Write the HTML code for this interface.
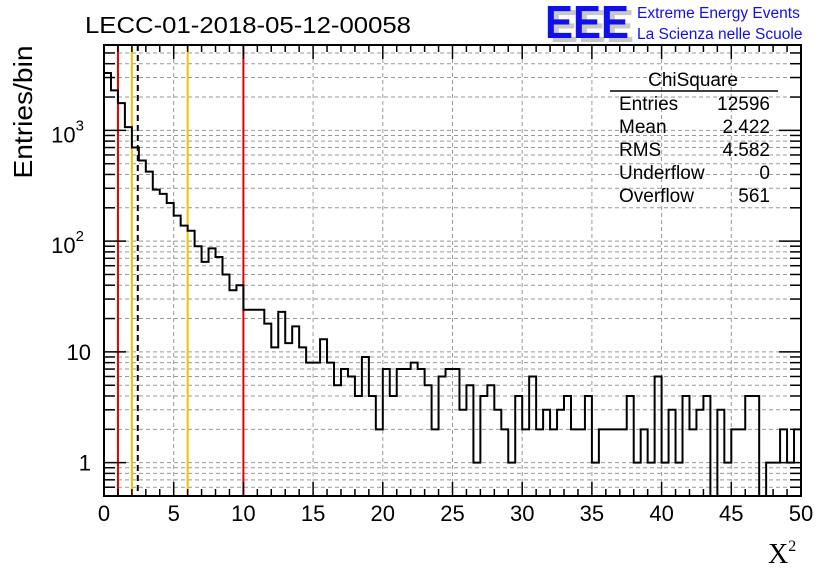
<!DOCTYPE html>
<html><head><meta charset="utf-8"><style>
body{margin:0;background:#fff}
svg{display:block;font-family:"Liberation Sans",sans-serif}
</style></head><body>
<svg id="c" width="836" height="572" viewBox="0 0 836 572">
<g id="grid"></g>
<g id="lines"></g>
<path id="hist" fill="none" stroke="#000" stroke-width="2"></path>
<rect x="104" y="45" width="697" height="451" fill="none" stroke="#000" stroke-width="2"/>
<g id="ticks"></g>
<text x="85" y="33" font-size="23" textLength="326" lengthAdjust="spacingAndGlyphs">LECC-01-2018-05-12-00058</text>
<g>
<text x="550" y="42" font-size="46" font-weight="bold" fill="#c8c8c8" textLength="84" lengthAdjust="spacingAndGlyphs">EEE</text>
<text x="545" y="38" font-size="46" font-weight="bold" fill="#1010ee" textLength="84" lengthAdjust="spacingAndGlyphs">EEE</text>
<text x="637" y="18" font-size="15.5" fill="#1010ee">Extreme Energy Events</text>
<text x="637" y="39" font-size="15.5" fill="#1010ee">La Scienza nelle Scuole</text>
</g>
<g font-size="19">
<text x="693" y="86" text-anchor="middle">ChiSquare</text>
<line x1="610" y1="91" x2="778" y2="91" stroke="#000" stroke-width="1.5"/>
<text x="619" y="110">Entries</text><text x="770" y="110" text-anchor="end">12596</text>
<text x="619" y="133">Mean</text><text x="770" y="133" text-anchor="end">2.422</text>
<text x="619" y="156">RMS</text><text x="770" y="156" text-anchor="end">4.582</text>
<text x="619" y="179">Underflow</text><text x="770" y="179" text-anchor="end">0</text>
<text x="619" y="202">Overflow</text><text x="770" y="202" text-anchor="end">561</text>
</g>
<text transform="translate(32,112) rotate(-90)" font-size="26" text-anchor="middle" textLength="133" lengthAdjust="spacingAndGlyphs">Entries/bin</text>
<text x="768" y="563" font-size="28" font-family="Liberation Serif,serif">X<tspan font-size="16" dy="-12">2</tspan></text>
</svg>
<script>
const binCounts=[3300,2300,1760,1070,700,535,424,292,267,221,170,138,124,90,65,86,72,50,36,40,
24,24,24,18,11,23,12,17,11,8,8,13,8,5,7,6,4,9,4,2,
7,4,7,7,8,7,5,2,6,7,7,3,5,1,4,5,3,2,1,4,
2,6,2,3,2,3,4,2,2,4,1,2,2,2,2,4,1,2,1,6,
1,3,1,4,2,3,4,0,3,1,2,2,4,4,0,1,1,2,1,2];
const xTicks=[0,5,10,15,20,25,30,35,40,45,50];
const yTickLabels=[["1",1],["10",10],["10²",100],["10³",1000]];
const refLines=[[1,"#e00000",false],[2,"#f5c000",false],[6,"#f5c000",false],[10,"#e00000",false],[2.422,"#000",true]];
const NS="http://www.w3.org/2000/svg";
const X0=104,X1=801,Y0=496,Y1=45,xmin=0,xmax=50,lmin=Math.log10(0.5),lmax=Math.log10(5900);
const sx=v=>X0+(v-xmin)/(xmax-xmin)*(X1-X0);
const sy=v=>v<=0.5?Y0:Y0-(Math.log10(v)-lmin)/(lmax-lmin)*(Y0-Y1);
function mk(t,a,p){const e=document.createElementNS(NS,t);for(const k in a)e.setAttribute(k,a[k]);p.appendChild(e);return e;}
const grid=document.getElementById('grid'),ticks=document.getElementById('ticks'),lines=document.getElementById('lines');
xTicks.forEach(v=>{
 const g=mk('line',{x1:sx(v),x2:sx(v),y1:Y1,y2:Y0,stroke:'#999','stroke-dasharray':'4 3'},grid);
 
 
 const t=mk('text',{x:sx(v),y:521,'font-size':22,'text-anchor':'middle'},ticks);
 t.textContent=v;
 
 
});
for(let v=0;v<=50;v+=1){const L=v%5==0?14:7;
 mk('line',{x1:sx(v),x2:sx(v),y1:Y0,y2:Y0-L,stroke:'#000','stroke-width':1.5},ticks);
 mk('line',{x1:sx(v),x2:sx(v),y1:Y1,y2:Y1+L,stroke:'#000','stroke-width':1.5},ticks);}
for(let d=0.1;d<=1000;d*=10){for(let m=1;m<=9;m++){const v=Math.round(d*m*10)/10;if(v<0.5||v>5900)continue;
 const y=sy(v);const L=m==1?22:11;
 mk('line',{x1:X0,x2:X1,y1:y,y2:y,stroke:'#999','stroke-dasharray':'4 3'},grid);
 mk('line',{x1:X0,x2:X0+L,y1:y,y2:y,stroke:'#000','stroke-width':1.5},ticks);
 mk('line',{x1:X1,x2:X1-L,y1:y,y2:y,stroke:'#000','stroke-width':1.5},ticks);}}
yTickLabels.forEach(([s,v])=>{const big=s.length>2;const t=mk('text',{x:big?84:91,y:sy(v)+(big?12:8),'font-size':22,'text-anchor':'end'},ticks);
 if(big){t.textContent="10";const ts=mk('tspan',{'font-size':15,dy:-12},t);ts.textContent=s.slice(2)=="²"?"2":"3";}else t.textContent=s;
 
 });
refLines.forEach(([v,c,d])=>{const l=mk('line',{x1:sx(v),x2:sx(v),y1:Y1,y2:Y0,stroke:c,'stroke-width':2},lines);
 if(d)l.setAttribute('stroke-dasharray','6 4');
 
 });
const bw=(xmax-xmin)/binCounts.length;let p='';
binCounts.forEach((v,i)=>{const xa=sx(i*bw),xb=sx((i+1)*bw),y=sy(v);p+=(i==0?'M'+xa+','+y:'L'+xa+','+y)+'L'+xb+','+y;});
document.getElementById('hist').setAttribute('d',p);
</script>
</body></html>
